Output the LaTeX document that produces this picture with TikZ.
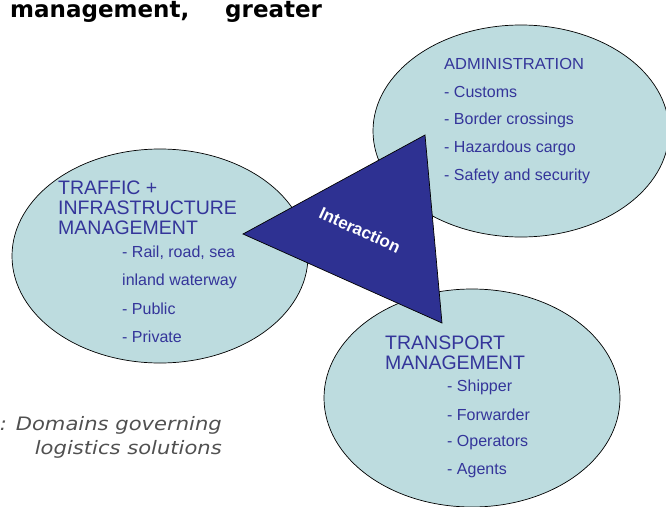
\documentclass[tikz,border=0pt]{standalone}
\usepackage{fontspec}
\setmainfont{Liberation Sans}
\newfontfamily\titlefont{DejaVu Sans}
\usetikzlibrary{shapes.geometric}
\definecolor{domainfill}{HTML}{BDDCDF}
\definecolor{domaintext}{HTML}{34359A}
\definecolor{hubblue}{HTML}{2E3192}
\definecolor{captiongray}{HTML}{505050}
\tikzset{
  domainbox/.style={ellipse, draw=black, line width=0.7pt, fill=domainfill, inner sep=0pt},
  heading/.style={anchor=west, text=domaintext, font=\fontsize{19.5}{20}\selectfont, inner sep=0pt, align=left},
  item/.style={anchor=west, text=domaintext, font=\fontsize{16}{16}\selectfont, inner sep=0pt},
  hub/.style={fill=hubblue, draw=black, line width=0.7pt, line join=miter},
  captionline/.style={anchor=east, inner sep=0pt, text=captiongray, xscale=1.14,
    font=\titlefont\itshape\fontsize{18.5}{18.5}\selectfont},
}
\begin{document}
\begin{tikzpicture}[x=1pt, y=-1pt]
\useasboundingbox (0,0) rectangle (666,506);
\clip (0,0) rectangle (666,506);

% three domains
\node[domainbox, minimum width=296pt, minimum height=214pt] (traffic) at (160,256) {};
\node[domainbox, minimum width=296pt, minimum height=212pt] (admin) at (521,131) {};
\node[domainbox, minimum width=296pt, minimum height=218pt] (transport) at (472,398) {};

% interaction hub
\coordinate (hubL) at (243,234);
\coordinate (hubT) at (425,135);
\coordinate (hubB) at (442,323);
\draw[hub] (hubL) -- (hubT) -- (hubB) -- cycle;
\node[text=white, font=\bfseries\fontsize{17}{17}\selectfont, rotate=-24.5, inner sep=0pt] (hubtext) at (360,230) {Interaction};

% administration
\node[item, xscale=1.03] (adm0) at (444,64) {ADMINISTRATION};
\node[item] (adm1) at (444,92) {- Customs};
\node[item] (adm2) at (444,120) {- Border crossings};
\node[item] (adm3) at (444,148) {- Hazardous cargo};
\node[item] (adm4) at (444,176) {- Safety and security};

% traffic + infrastructure
\node[heading] (trf0) at (58,188) {TRAFFIC +};
\node[heading] (trf1) at (58,208) {INFRASTRUCTURE};
\node[heading] (trf2) at (58,228) {MANAGEMENT};
\node[item] (trf3) at (122,253) {- Rail, road, sea};
\node[item] (trf4) at (122,281) {inland waterway};
\node[item] (trf5) at (122,309) {- Public};
\node[item] (trf6) at (122,337) {- Private};

% transport management
\node[heading] (trn0) at (385,343) {TRANSPORT};
\node[heading] (trn1) at (385,363) {MANAGEMENT};
\node[item] (trn2) at (447,387) {- Shipper};
\node[item] (trn3) at (447,415) {- Forwarder};
\node[item] (trn4) at (447,443) {- Operators};
\node[item] (trn5) at (447,471) {- Agents};

% title line and caption
\node[anchor=base west, inner sep=0pt, font=\titlefont\bfseries\fontsize{23}{23}\selectfont] (title1) at (10,17.5) {management,};
\node[anchor=base west, inner sep=0pt, font=\titlefont\bfseries\fontsize{23}{23}\selectfont] (title2) at (225,17.5) {greater};
\node[captionline] (cap1) at (222,425) {: Domains governing};
\node[captionline] (cap2) at (222,449) {logistics solutions};
\end{tikzpicture}
\end{document}
